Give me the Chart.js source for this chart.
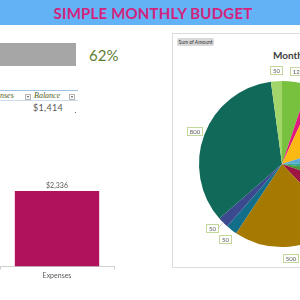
<!DOCTYPE html>
<html lang="en">
<head>
    <meta charset="UTF-8">
    <title>Simple Monthly Budget</title>
    <script src="https://cdn.jsdelivr.net/npm/chart.js"></script>
    <style>
        * {
            box-sizing: border-box;
            margin: 0;
            padding: 0;
        }

        body {
            width: 300px;
            height: 300px;
            overflow: hidden;
            position: relative;
            background: #fff;
            font-family: Lato, "Open Sans", sans-serif;
        }

        .banner {
            position: absolute;
            left: 0;
            top: 0;
            width: 300px;
            height: 25px;
            background-color: #64b2f6;
        }

        .banner h1 {
            position: absolute;
            left: 0;
            width: 306px;
            top: 5px;
            text-align: center;
            font-size: 15px;
            line-height: 16px;
            font-weight: bold;
            color: #d3237c;
            letter-spacing: 0.2px;
        }

        .progress {
            position: absolute;
            left: 0;
            top: 43px;
            width: 76px;
            height: 23px;
            background-color: #a6a6a6;
        }

        .pct {
            position: absolute;
            left: 89px;
            top: 46px;
            font-size: 15px;
            color: #5e7d31;
        }

        .table-head {
            position: absolute;
            left: 0;
            top: 90px;
            width: 78px;
            height: 11px;
            border-top: 1px solid #9dc3e6;
            border-bottom: 1px solid #c9dcef;
            font-family: "Liberation Serif", serif;
            font-style: italic;
            font-size: 8px;
            color: #4f6228;
        }

        .table-head span {
            position: absolute;
            top: 0px;
        }

        .dd {
            position: absolute;
            top: 3px;
            width: 6px;
            height: 6px;
            border: 1px solid #b4b4b4;
            background: #fafafa;
        }

        .dd::after {
            content: "";
            position: absolute;
            left: 1px;
            top: 1px;
            border-left: 1.5px solid transparent;
            border-right: 1.5px solid transparent;
            border-top: 2px solid #555;
        }

        .balance {
            position: absolute;
            left: 33px;
            top: 102px;
            font-size: 9px;
            color: #595959;
            letter-spacing: 0.3px;
        }

        .dot {
            position: absolute;
            left: 75px;
            top: 112px;
            width: 1px;
            height: 1px;
            background: #666;
        }

        #barChart {
            position: absolute;
            left: 0;
            top: 176px;
        }

        .panel {
            position: absolute;
            left: 172px;
            top: 33px;
            width: 140px;
            height: 235px;
            border: 1px solid #dcdcdc;
        }

        .sum-btn {
            position: absolute;
            left: 177px;
            top: 38px;
            width: 37px;
            height: 8px;
            background: #d9d9d9;
            border-radius: 2px;
            font-size: 5px;
            line-height: 8px;
            text-align: center;
            color: #333;
        }

        .pie-title {
            position: absolute;
            left: 273px;
            top: 49px;
            font-size: 10px;
            font-weight: bold;
            color: #404040;
            white-space: nowrap;
        }

        #pieChart {
            position: absolute;
            left: 162px;
            top: 44px;
        }
    </style>
</head>
<body>
    <div class="banner"><h1>SIMPLE MONTHLY BUDGET</h1></div>

    <!-- spent vs income bar -->
    <div class="progress"></div>
    <div class="pct">62%</div>

    <!-- table fragment -->
    <div class="table-head">
        <span style="left: 0px;">nses</span>
        <div class="dd" style="left: 25px;"></div>
        <span style="left: 34px;">Balance</span>
        <div class="dd" style="left: 69px;"></div>
    </div>
    <div class="balance">$1,414</div>
    <div class="dot"></div>

    <canvas id="barChart" width="116" height="106"></canvas>

    <div class="panel"></div>
    <div class="sum-btn">Sum of Amount</div>
    <div class="pie-title">Monthly Expenses</div>
    <canvas id="pieChart" width="240" height="240"></canvas>

    <script>
        // Bar chart data
        const barLabels = ['Expenses'];
        const barValues = [2336];

        // Pie chart data (clockwise from 12 o'clock)
        const sliceLabels = ['Utilities', 'Phone', 'Groceries', 'Internet', 'Insurance', 'Gas',
            'Entertainment', 'Car Payment', 'Gym', 'Savings', 'Rent', 'Misc'];
        const sliceValues = [120, 40, 310, 100, 60, 80, 176, 500, 50, 50, 800, 50];
        const sliceColors = ['#78c13f', '#e0197d', '#fdb913', '#5aa9d6', '#2fa59a', '#4d9a3c',
            '#9e1443', '#a67a00', '#136e8a', '#3b4a8e', '#11695a', '#a2d66a'];

        // value label above the bar
        const barValueLabel = {
            id: 'barValueLabel',
            afterDatasetsDraw(chart) {
                const ctx = chart.ctx;
                chart.getDatasetMeta(0).data.forEach((bar, i) => {
                    ctx.save();
                    ctx.fillStyle = '#595959';
                    ctx.font = '7px Lato, sans-serif';
                    ctx.textAlign = 'center';
                    ctx.textBaseline = 'bottom';
                    ctx.fillText('$' + barValues[i].toLocaleString('en-US'), bar.x, bar.y - 2);
                    ctx.restore();
                });
            }
        };

        new Chart(document.getElementById('barChart'), {
            type: 'bar',
            data: {
                labels: barLabels,
                datasets: [{
                    data: barValues,
                    backgroundColor: '#b0135c',
                    barPercentage: 0.74,
                    categoryPercentage: 1
                }]
            },
            options: {
                responsive: false,
                devicePixelRatio: 1,
                animation: false,
                layout: { padding: { top: 15, right: 2 } },
                plugins: { legend: { display: false }, tooltip: { enabled: false } },
                scales: {
                    x: {
                        grid: { drawOnChartArea: false, color: '#d0d0d0', tickLength: 3 },
                        border: { color: '#d0d0d0' },
                        ticks: { color: '#595959', font: { size: 7, family: 'Lato' }, padding: 2 }
                    },
                    y: { display: false, min: 0, max: 2336 }
                }
            },
            plugins: [barValueLabel]
        });

        // boxed value labels just outside each slice, nudged clockwise when they collide
        const sliceValueLabels = {
            id: 'sliceValueLabels',
            afterDatasetsDraw(chart) {
                const ctx = chart.ctx;
                const placed = [];
                ctx.save();
                ctx.font = '6px Lato, sans-serif';
                chart.getDatasetMeta(0).data.forEach((arc, i) => {
                    const p = arc.getProps(['x', 'y', 'startAngle', 'endAngle', 'outerRadius'], true);
                    const mid = (p.startAngle + p.endAngle) / 2;
                    const text = String(sliceValues[i]);
                    const w = Math.round(ctx.measureText(text).width + 5);
                    const h = 8;
                    let r = p.outerRadius + 11;
                    let a = mid;
                    let cx, cy, moved = false;
                    const hits = () => placed.some(b =>
                        Math.abs(b.x - cx) < (b.w + w) / 2 + 2 && Math.abs(b.y - cy) < (b.h + h) / 2 + 2);
                    cx = p.x + Math.cos(a) * r;
                    cy = p.y + Math.sin(a) * r;
                    while (hits() && a < mid + 0.5) {
                        a += 0.02;
                        r += 0.5;
                        cx = p.x + Math.cos(a) * r;
                        cy = p.y + Math.sin(a) * r;
                        moved = true;
                    }
                    placed.push({ x: cx, y: cy, w: w, h: h });

                    if (moved) {
                        ctx.strokeStyle = '#a6a6a6';
                        ctx.lineWidth = 0.6;
                        ctx.beginPath();
                        ctx.moveTo(p.x + Math.cos(mid) * (p.outerRadius - 1), p.y + Math.sin(mid) * (p.outerRadius - 1));
                        ctx.lineTo(cx + w / 2, cy);
                        ctx.stroke();
                    }

                    const bx = Math.round(cx - w / 2);
                    const by = Math.round(cy - h / 2);
                    ctx.fillStyle = '#fff';
                    ctx.fillRect(bx, by, w, h);
                    ctx.strokeStyle = '#c4d79b';
                    ctx.lineWidth = 1;
                    ctx.strokeRect(bx + 0.5, by + 0.5, w, h);
                    ctx.fillStyle = '#595959';
                    ctx.textAlign = 'center';
                    ctx.textBaseline = 'middle';
                    ctx.fillText(text, bx + w / 2 + 0.5, by + h / 2 + 1);
                });
                ctx.restore();
            }
        };

        new Chart(document.getElementById('pieChart'), {
            type: 'pie',
            data: {
                labels: sliceLabels,
                datasets: [{
                    data: sliceValues,
                    backgroundColor: sliceColors,
                    borderWidth: 0
                }]
            },
            options: {
                responsive: false,
                devicePixelRatio: 1,
                animation: false,
                layout: { padding: 37 },
                plugins: { legend: { display: false }, tooltip: { enabled: false } }
            },
            plugins: [sliceValueLabels]
        });
    </script>
</body>
</html>
